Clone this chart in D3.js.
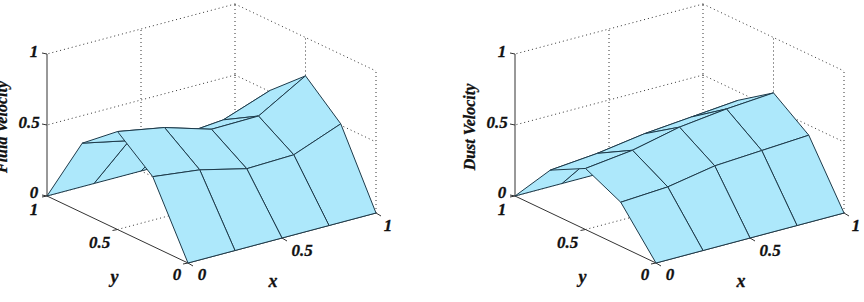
<!DOCTYPE html>
<html>
<head>
<meta charset="utf-8">
<script src="https://cdn.jsdelivr.net/npm/d3@7"></script>
<style>
  html, body { margin: 0; padding: 0; background: #fff; }
  text { font-family: "Liberation Serif", serif; font-weight: bold; font-style: italic; fill: #111; stroke: #111; stroke-width: 0.3; }
</style>
</head>
<body>
<svg id="chart" width="864" height="302"></svg>
<script>
// Grid coordinates of the sampled surfaces
const gridX = [0, 0.25, 0.5, 0.75, 1];
const gridY = [0, 0.25, 0.5, 0.75, 1];

// Velocity at each grid node: one row per y value, one column per x value
const fluidVelocity = [
  [0, 0, 0, 0, 0],
  [0.49, 0.45, 0.37, 0.38, 0.51],
  [0.69, 0.63, 0.53, 0.535, 0.73],
  [0.49, 0.42, 0.36, 0.39, 0.51],
  [0, 0, 0, 0, 0]
];
const dustVelocity = [
  [0, 0, 0, 0, 0],
  [0.31, 0.33, 0.39, 0.41, 0.43],
  [0.43, 0.47, 0.545, 0.585, 0.61],
  [0.30, 0.33, 0.38, 0.41, 0.44],
  [0, 0, 0, 0, 0]
];

const axisTicks = [0, 0.5, 1];
const tickLabels = ["0", "0.5", "1"];
const panelTitles = ["Fluid Velocity", "Dust Velocity"];

// Oblique projection: each data axis contributes a screen offset
const xToPx = d3.scaleLinear().domain([0, 1]).range([0, 188]);
const xToPy = d3.scaleLinear().domain([0, 1]).range([0, -50]);
const yToPx = d3.scaleLinear().domain([0, 1]).range([0, -141]);
const yToPy = d3.scaleLinear().domain([0, 1]).range([0, -67]);
const zToPy = d3.scaleLinear().domain([0, 1]).range([0, -142]);

const svg = d3.select("#chart");
const line = d3.line();

function drawPanel(originX, originY, values, title, titleX) {
  const g = svg.append("g").attr("transform", `translate(${originX},${originY})`);
  const P = (x, y, z) => [xToPx(x) + yToPx(y), xToPy(x) + yToPy(y) + zToPy(z)];

  const dotted = (pts) => g.append("path").attr("d", line(pts))
    .attr("fill", "none").attr("stroke", "#333").attr("stroke-width", 1)
    .attr("stroke-dasharray", "1,3");
  const solid = (pts, color) => g.append("path").attr("d", line(pts))
    .attr("fill", "none").attr("stroke", color || "#333").attr("stroke-width", 1);

  // Dotted grid on the floor and the two back walls
  axisTicks.slice(1).forEach(t => {
    dotted([P(1, 1, t), P(0, 1, t)]);
    dotted([P(1, 1, t), P(1, 0, t)]);
  });
  dotted([P(0, 0.5, 0), P(1, 0.5, 0)]);
  dotted([P(0.5, 0, 0), P(0.5, 1, 0)]);
  dotted([P(0, 1, 0), P(1, 1, 0)]);
  dotted([P(1, 0, 0), P(1, 1, 0)]);
  dotted([P(0.5, 1, 0), P(0.5, 1, 1)]);
  dotted([P(1, 1, 0), P(1, 1, 1)]);
  dotted([P(1, 0.5, 0), P(1, 0.5, 1)]);
  dotted([P(1, 0, 0), P(1, 0, 1)]);

  // Solid axes with their tick marks
  solid([P(0, 1, 0), P(0, 1, 1)]);
  solid([P(0, 0, 0), P(1, 0, 0)]);
  solid([P(0, 0, 0), P(0, 1, 0)]);
  axisTicks.forEach(t => {
    const a = P(0, 1, t);
    solid([a, [a[0] - 5, a[1] - 1]]);
    const b = P(t, 0, 0);
    solid([b, [b[0] + 5, b[1] + 3]]);
    const c = P(0, t, 0);
    solid([c, [c[0] - 5, c[1] + 1]]);
  });

  // Surface facets, painted from the far corner to the near corner
  for (let j = gridY.length - 2; j >= 0; j--) {
    for (let i = gridX.length - 2; i >= 0; i--) {
      const quad = [
        P(gridX[i], gridY[j], values[j][i]),
        P(gridX[i + 1], gridY[j], values[j][i + 1]),
        P(gridX[i + 1], gridY[j + 1], values[j + 1][i + 1]),
        P(gridX[i], gridY[j + 1], values[j + 1][i])
      ];
      g.append("path").attr("d", line(quad) + "Z")
        .attr("fill", "#ade8fb").attr("stroke", "#1d3a4a")
        .attr("stroke-width", 1).attr("stroke-linejoin", "round");
    }
  }

  // Tick labels
  const label = (txt, pos, dx, dy) => g.append("text")
    .attr("x", pos[0] + dx).attr("y", pos[1] + dy)
    .attr("text-anchor", "middle").attr("font-size", 17).text(txt);
  axisTicks.forEach((t, k) => {
    label(tickLabels[k], P(0, 1, t), k === 1 ? -18 : -13, k === 0 ? 2 : 3);
    label(tickLabels[k], P(t, 0, 0), k === 0 ? 14 : (k === 1 ? 20 : 12), k === 2 ? 18 : (k === 1 ? 18 : 17));
    label(tickLabels[k], P(0, t, 0), k === 0 ? -11 : (k === 1 ? -18 : -13), k === 0 ? 17 : (k === 1 ? 18 : 19));
  });

  // Axis titles
  const xTitle = P(0.5, 0, 0), yTitle = P(0, 0.5, 0);
  g.append("text").attr("x", xTitle[0] - 9).attr("y", xTitle[1] + 49)
    .attr("text-anchor", "middle").attr("font-size", 18).text("x");
  g.append("text").attr("x", yTitle[0] - 3).attr("y", yTitle[1] + 53)
    .attr("text-anchor", "middle").attr("font-size", 18).text("y");
  svg.append("text")
    .attr("transform", `translate(${titleX},127) rotate(-90)`)
    .attr("text-anchor", "middle").attr("font-size", 16).text(title);
}

drawPanel(188, 263, fluidVelocity, panelTitles[0], 7);
drawPanel(656, 263, dustVelocity, panelTitles[1], 475);
</script>
</body>
</html>
